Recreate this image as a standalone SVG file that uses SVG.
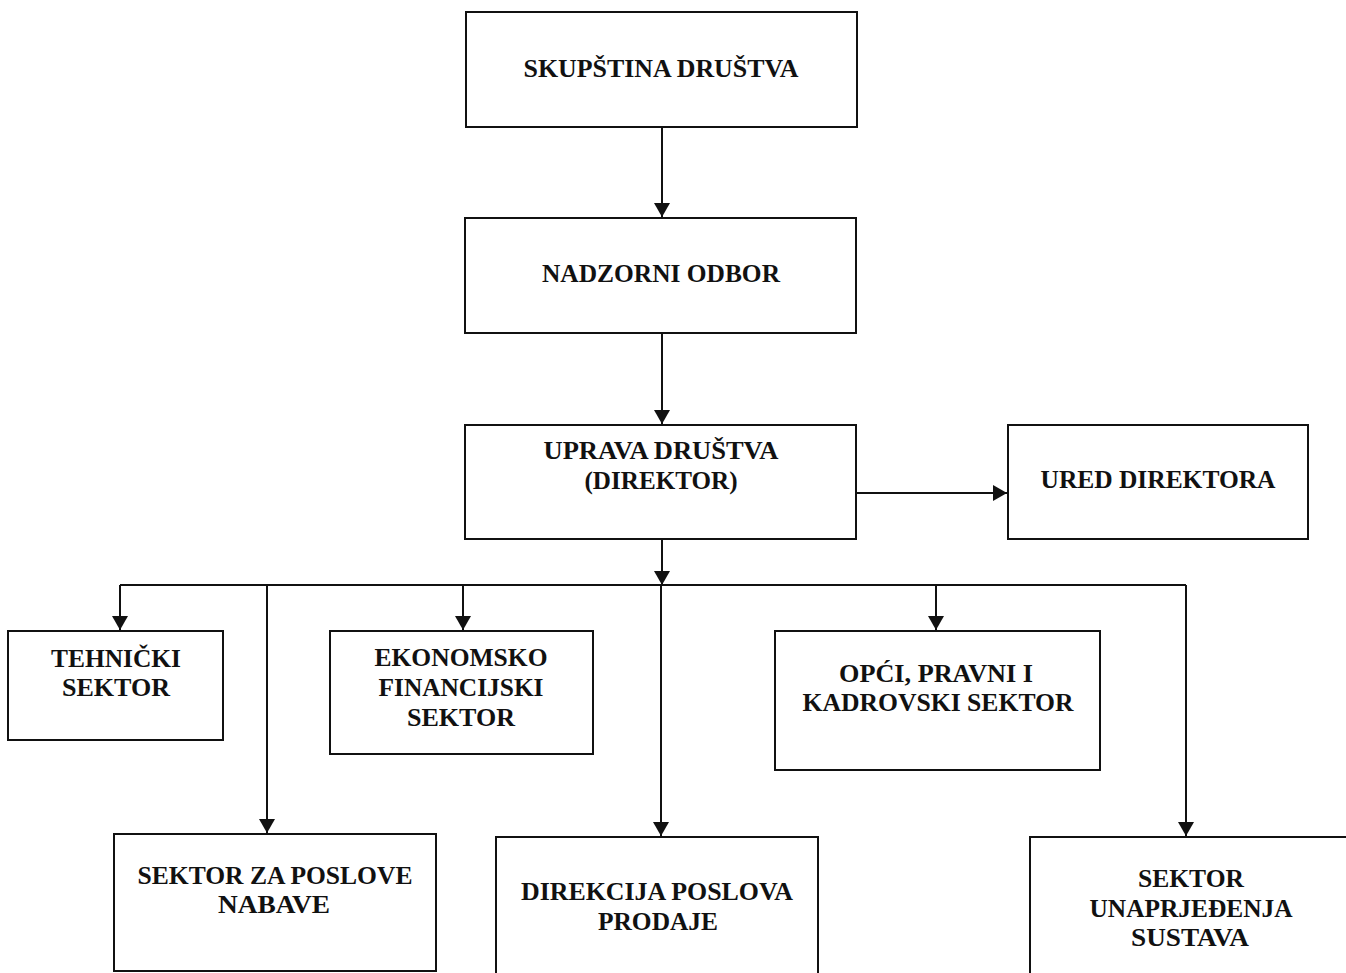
<svg xmlns="http://www.w3.org/2000/svg" width="1346" height="973" viewBox="0 0 1346 973">
<defs>
<style>
.box{fill:#fff;stroke:#111;stroke-width:2}
.t{font-family:"Liberation Serif","Times New Roman",serif;font-weight:bold;font-size:25px;fill:#111;text-anchor:middle}
.c{fill:none;stroke:#111;stroke-width:2}
</style>
<marker id="ah" viewBox="0 0 14 16" refX="14" refY="8" markerWidth="14" markerHeight="16" markerUnits="userSpaceOnUse" orient="auto">
<path d="M0,0 L14,8 L0,16 Z" fill="#111"/>
</marker>
</defs>
<rect width="1346" height="973" fill="#fff"/>
<g id="connectors">
<line class="c" x1="662" y1="127" x2="662" y2="217" marker-end="url(#ah)"/>
<line class="c" x1="662" y1="333" x2="662" y2="424" marker-end="url(#ah)"/>
<line class="c" x1="856" y1="493" x2="1007" y2="493" marker-end="url(#ah)"/>
<line class="c" x1="662" y1="539" x2="662" y2="585" marker-end="url(#ah)"/>
<line class="c" x1="120" y1="585" x2="1186" y2="585"/>
<line class="c" x1="120" y1="585" x2="120" y2="630" marker-end="url(#ah)"/>
<line class="c" x1="463" y1="585" x2="463" y2="630" marker-end="url(#ah)"/>
<line class="c" x1="936" y1="585" x2="936" y2="630" marker-end="url(#ah)"/>
<line class="c" x1="267" y1="585" x2="267" y2="833" marker-end="url(#ah)"/>
<line class="c" x1="661" y1="585" x2="661" y2="836" marker-end="url(#ah)"/>
<line class="c" x1="1186" y1="585" x2="1186" y2="836" marker-end="url(#ah)"/>
</g>
<g id="skupstina">
<rect class="box" x="466" y="12" width="391" height="115"/>
<text class="t" x="661" y="77" textLength="275" lengthAdjust="spacingAndGlyphs">SKUPŠTINA DRUŠTVA</text>
</g>
<g id="nadzorni">
<rect class="box" x="465" y="218" width="391" height="115"/>
<text class="t" x="661" y="282" textLength="238" lengthAdjust="spacingAndGlyphs">NADZORNI ODBOR</text>
</g>
<g id="uprava">
<rect class="box" x="465" y="425" width="391" height="114"/>
<text class="t" x="661" y="459" textLength="235" lengthAdjust="spacingAndGlyphs">UPRAVA DRUŠTVA</text>
<text class="t" x="661" y="489" textLength="153" lengthAdjust="spacingAndGlyphs">(DIREKTOR)</text>
</g>
<g id="ured">
<rect class="box" x="1008" y="425" width="300" height="114"/>
<text class="t" x="1158" y="488" textLength="235" lengthAdjust="spacingAndGlyphs">URED DIREKTORA</text>
</g>
<g id="tehnicki">
<rect class="box" x="8" y="631" width="215" height="109"/>
<text class="t" x="116" y="667" textLength="130" lengthAdjust="spacingAndGlyphs">TEHNIČKI</text>
<text class="t" x="116" y="696" textLength="108" lengthAdjust="spacingAndGlyphs">SEKTOR</text>
</g>
<g id="ekonomsko">
<rect class="box" x="330" y="631" width="263" height="123"/>
<text class="t" x="461" y="666" textLength="173" lengthAdjust="spacingAndGlyphs">EKONOMSKO</text>
<text class="t" x="461" y="696" textLength="165" lengthAdjust="spacingAndGlyphs">FINANCIJSKI</text>
<text class="t" x="461" y="726" textLength="108" lengthAdjust="spacingAndGlyphs">SEKTOR</text>
</g>
<g id="opci">
<rect class="box" x="775" y="631" width="325" height="139"/>
<text class="t" x="936" y="682" textLength="194" lengthAdjust="spacingAndGlyphs">OPĆI, PRAVNI I</text>
<text class="t" x="938" y="711" textLength="271" lengthAdjust="spacingAndGlyphs">KADROVSKI SEKTOR</text>
</g>
<g id="nabava">
<rect class="box" x="114" y="834" width="322" height="137"/>
<text class="t" x="275" y="884" textLength="275" lengthAdjust="spacingAndGlyphs">SEKTOR ZA POSLOVE</text>
<text class="t" x="274" y="913" textLength="112" lengthAdjust="spacingAndGlyphs">NABAVE</text>
</g>
<g id="prodaja">
<rect class="box" x="496" y="837" width="322" height="150"/>
<text class="t" x="657" y="900" textLength="272" lengthAdjust="spacingAndGlyphs">DIREKCIJA POSLOVA</text>
<text class="t" x="658" y="930" textLength="120" lengthAdjust="spacingAndGlyphs">PRODAJE</text>
</g>
<g id="unaprjedenje">
<rect class="box" x="1030" y="837" width="340" height="150"/>
<text class="t" x="1191" y="887" textLength="106" lengthAdjust="spacingAndGlyphs">SEKTOR</text>
<text class="t" x="1191" y="917" textLength="203" lengthAdjust="spacingAndGlyphs">UNAPRJEĐENJA</text>
<text class="t" x="1190" y="946" textLength="118" lengthAdjust="spacingAndGlyphs">SUSTAVA</text>
</g>
</svg>
